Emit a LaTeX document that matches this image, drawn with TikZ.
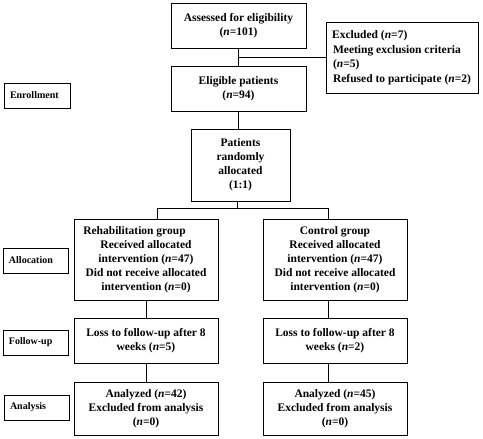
\documentclass[tikz,border=0pt]{standalone}
\usepackage{fontspec}
\setmainfont{Liberation Serif}
\begin{document}
\begin{tikzpicture}[x=1pt,y=-1pt,
  box/.style={draw,line width=0.8pt,inner sep=0pt,align=center,font=\bfseries\fontsize{11.5}{14}\selectfont},
  side/.style={draw,line width=0.8pt,inner sep=0pt,minimum height=25pt,align=left,font=\bfseries\fontsize{10}{11}\selectfont},
  conn/.style={line width=0.8pt}]
\useasboundingbox (0,0) rectangle (483,439);
% main column
\node[box,minimum width=135pt,minimum height=45pt] (assess) at (238.5,25.5) {Assessed for eligibility\\(\textit{n}=101)};
\node[box,minimum width=135pt,minimum height=45pt] (elig) at (238.5,88.5) {Eligible patients\\(\textit{n}=94)};
\node[draw,line width=0.8pt,inner sep=0pt,minimum width=152pt,minimum height=71pt,align=left,font=\bfseries\fontsize{11.5}{14.5}\selectfont] (excl) at (402,57.5) {\hspace*{-1pt}Excluded (\textit{n}=7)\\Meeting exclusion criteria\\(\textit{n}=5)\\Refused to participate (\textit{n}=2)};
\node[box,minimum width=99pt,minimum height=72pt] (pat) at (240.5,165) {Patients\\randomly\\allocated\\(1:1)};
% groups
\node[box,minimum width=144pt,minimum height=81pt] (rehab) at (146,259.5) {Rehabilitation group\hspace*{23pt}\\Received allocated\\intervention (\textit{n}=47)\\Did not receive allocated\\intervention (\textit{n}=0)};
\node[box,minimum width=144pt,minimum height=81pt] (ctrl) at (335,259.5) {Control group\\Received allocated\\intervention (\textit{n}=47)\\Did not receive allocated\\intervention (\textit{n}=0)};
\node[box,minimum width=144pt,minimum height=45pt] (fu1) at (146,340.5) {Loss to follow-up after 8\\weeks (\textit{n}=5)};
\node[box,minimum width=144pt,minimum height=45pt] (fu2) at (335,340.5) {Loss to follow-up after 8\\weeks (\textit{n}=2)};
\node[box,minimum width=144pt,minimum height=53pt] (an1) at (146,408.5) {Analyzed (\textit{n}=42)\\Excluded from analysis\\(\textit{n}=0)};
\node[box,minimum width=144pt,minimum height=53pt] (an2) at (335,408.5) {Analyzed (\textit{n}=45)\\Excluded from analysis\\(\textit{n}=0)};
% side labels
\node[side,minimum width=66pt,text width=54pt] (enr) at (37,95.5) {Enrollment};
\node[side,minimum width=65pt,text width=53pt] (alloc) at (35.5,260.5) {Allocation};
\node[side,minimum width=65pt,text width=53pt] (fol) at (35.5,342.5) {Follow-up};
\node[side,minimum width=65pt,text width=53pt] (ana) at (36.5,407.5) {Analysis};
% connectors
\draw[conn] (assess.south) -- (elig.north);
\draw[conn] (assess.south |- excl.west) -- (excl.west);
\draw[conn] (elig.south) -- (elig.south |- pat.north);
\coordinate (split) at (237,208);
\coordinate (bl) at (157,208);
\coordinate (br) at (328,208);
\draw[conn] (pat.south -| split) -- (split);
\draw[conn] (bl) -- (br);
\draw[conn] (bl) -- (bl |- rehab.north);
\draw[conn] (br) -- (br |- ctrl.north);
\draw[conn] (rehab.south) -- (fu1.north);
\draw[conn] (fu1.south) -- (an1.north);
\draw[conn] (br |- ctrl.south) -- (br |- fu2.north);
\draw[conn] (br |- fu2.south) -- (br |- an2.north);
\end{tikzpicture}
\end{document}
